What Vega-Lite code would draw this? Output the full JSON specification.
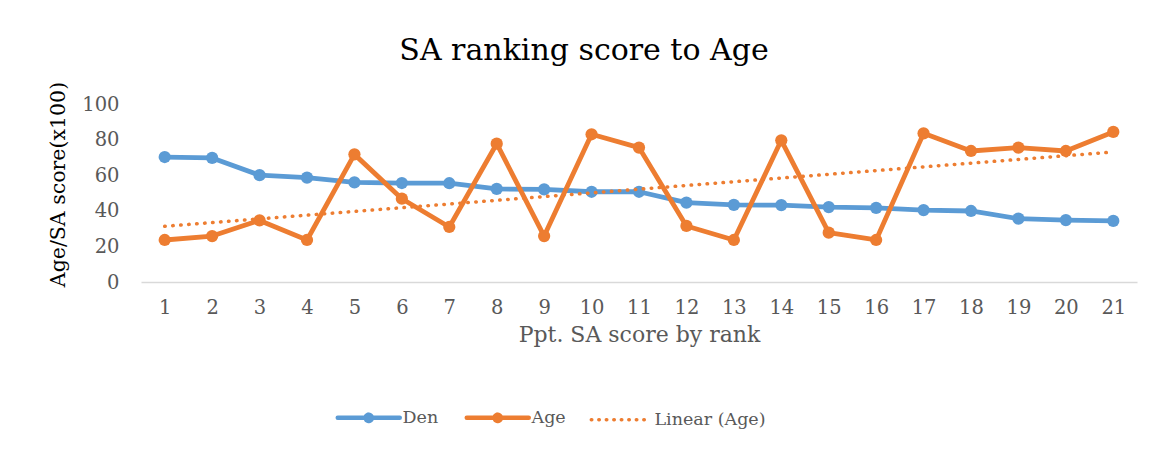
{
  "$schema": "https://vega.github.io/schema/vega-lite/v6.json",
  "width": 996,
  "height": 178,
  "padding": {"left": 48, "top": 36, "right": 10, "bottom": 5},
  "background": "white",
  "config": {"view": {"stroke": null}, "font": "DejaVu Serif"},
  "title": {"text": "SA ranking score to Age", "fontSize": 30, "fontWeight": "normal", "color": "#000000", "font": "DejaVu Serif", "anchor": "middle", "frame": "group", "dx": -55, "offset": 15},
  "data": {"values": [
    {"rank": 1, "series": "Den", "value": 70.2},
    {"rank": 2, "series": "Den", "value": 69.7},
    {"rank": 3, "series": "Den", "value": 60.0},
    {"rank": 4, "series": "Den", "value": 58.6},
    {"rank": 5, "series": "Den", "value": 56.0},
    {"rank": 6, "series": "Den", "value": 55.6},
    {"rank": 7, "series": "Den", "value": 55.5},
    {"rank": 8, "series": "Den", "value": 52.3},
    {"rank": 9, "series": "Den", "value": 52.0},
    {"rank": 10, "series": "Den", "value": 50.7},
    {"rank": 11, "series": "Den", "value": 50.7},
    {"rank": 12, "series": "Den", "value": 44.6},
    {"rank": 13, "series": "Den", "value": 43.3},
    {"rank": 14, "series": "Den", "value": 43.2},
    {"rank": 15, "series": "Den", "value": 42.1},
    {"rank": 16, "series": "Den", "value": 41.6},
    {"rank": 17, "series": "Den", "value": 40.4},
    {"rank": 18, "series": "Den", "value": 39.9},
    {"rank": 19, "series": "Den", "value": 35.6},
    {"rank": 20, "series": "Den", "value": 34.8},
    {"rank": 21, "series": "Den", "value": 34.3},
    {"rank": 1, "series": "Age", "value": 23.6},
    {"rank": 2, "series": "Age", "value": 25.8},
    {"rank": 3, "series": "Age", "value": 34.6},
    {"rank": 4, "series": "Age", "value": 23.6},
    {"rank": 5, "series": "Age", "value": 71.7},
    {"rank": 6, "series": "Age", "value": 46.8},
    {"rank": 7, "series": "Age", "value": 30.9},
    {"rank": 8, "series": "Age", "value": 77.7},
    {"rank": 9, "series": "Age", "value": 25.8},
    {"rank": 10, "series": "Age", "value": 83.0},
    {"rank": 11, "series": "Age", "value": 75.5},
    {"rank": 12, "series": "Age", "value": 31.5},
    {"rank": 13, "series": "Age", "value": 23.6},
    {"rank": 14, "series": "Age", "value": 79.6},
    {"rank": 15, "series": "Age", "value": 27.7},
    {"rank": 16, "series": "Age", "value": 23.6},
    {"rank": 17, "series": "Age", "value": 83.5},
    {"rank": 18, "series": "Age", "value": 73.6},
    {"rank": 19, "series": "Age", "value": 75.5},
    {"rank": 20, "series": "Age", "value": 73.6},
    {"rank": 21, "series": "Age", "value": 84.3}
  ]},
  "encoding": {
    "x": {"field": "rank", "type": "quantitative",
      "scale": {"domain": [0.5, 21.5], "nice": false, "zero": false},
      "axis": {"values": [1,2,3,4,5,6,7,8,9,10,11,12,13,14,15,16,17,18,19,20,21], "format": "d",
        "title": "Ppt. SA score by rank", "grid": false, "ticks": false,
        "domainColor": "#d9d9d9", "domainWidth": 1.5,
        "labelFontSize": 19.5, "labelColor": "#595959", "labelPadding": 16, "labelFlush": false,
        "titleFontSize": 22, "titleColor": "#595959", "titleFontWeight": "normal", "titlePadding": 8}},
    "y": {"field": "value", "type": "quantitative",
      "scale": {"domain": [0, 100], "nice": false},
      "axis": {"values": [0, 20, 40, 60, 80, 100], "title": "Age/SA score(x100)",
        "grid": false, "ticks": false, "domain": false,
        "labelFontSize": 19.5, "labelColor": "#595959", "labelPadding": 22,
        "titleFontSize": 20.5, "titleColor": "#000000", "titleFontWeight": "normal", "titlePadding": 13, "titleY": 80}}
  },
  "layer": [
    {
      "mark": {"type": "line", "strokeWidth": 4.8, "strokeJoin": "round", "strokeCap": "round",
        "point": {"filled": true, "size": 150, "opacity": 1}},
      "encoding": {
        "color": {"field": "series", "type": "nominal",
          "scale": {"domain": ["Den", "Age", "Linear (Age)"], "range": ["#5b9bd5", "#ed7d31", "#ed7d31"]},
          "legend": {
            "orient": "none", "legendX": 219, "legendY": 305, "direction": "horizontal", "title": null,
            "labelFontSize": 17.5, "labelColor": "#595959", "labelFont": "DejaVu Serif",
            "symbolSize": 3844, "symbolStrokeWidth": 4.5, "labelOffset": 25, "columnPadding": 18,
            "symbolType": "M-1,0H1",
            "encode": {
              "symbols": {"update": {
                "shape": {"signal": "datum.value === 'Linear (Age)' ? 'M-0.95,0H0.95' : 'M-1,0H1M-0.1,0A0.1,0.1 0 1 0 0.1,0A0.1,0.1 0 1 0 -0.1,0Z'"},
                "strokeDash": {"signal": "datum.value === 'Linear (Age)' ? [0.5, 7] : [1, 0]"},
                "strokeWidth": {"signal": "datum.value === 'Linear (Age)' ? 3.5 : 4.5"},
                "strokeCap": {"value": "round"},
                "stroke": {"signal": "scale('color', datum.value)"},
                "fill": {"signal": "datum.value === 'Linear (Age)' ? 'transparent' : scale('color', datum.value)"},
                "opacity": {"value": 1}
              }}
            }
          }}
      }
    },
    {
      "transform": [
        {"filter": "datum.series === 'Age'"},
        {"regression": "value", "on": "rank"}
      ],
      "mark": {"type": "line", "strokeWidth": 3.5, "strokeDash": [0.5, 7.5], "strokeCap": "round"},
      "encoding": {
        "color": {"datum": "Linear (Age)"}
      }
    }
  ]
}
